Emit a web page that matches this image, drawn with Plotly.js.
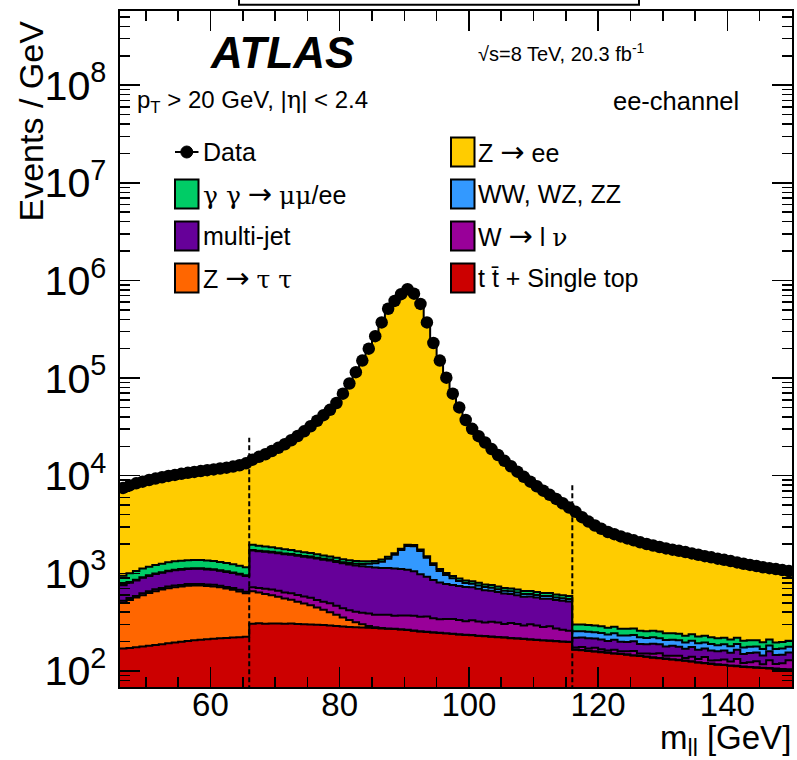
<!DOCTYPE html>
<html><head><meta charset="utf-8">
<script src="https://cdn.plot.ly/plotly-3.0.1.min.js"></script>
<style>html,body{margin:0;padding:0;background:#fff}#chart{width:797px;height:760px}</style>
</head><body><div id="chart"></div>
<script>
// m_ll bin edges [GeV]
const binEdges = [46,47,48,49,50,51,52,53,54,55,56,57,58,59,60,61,62,63,64,65,66,67,68,69,70,71,72,73,74,75,76,77,78,79,80,81,82,83,84,85,86,87,88,89,90,91,92,93,94,95,96,97,98,99,100,101,102,103,104,105,106,107,108,109,110,111,112,113,114,115,116,117,118,119,120,121,122,123,124,125,126,127,128,129,130,131,132,133,134,135,136,137,138,139,140,141,142,143,144,145,146,147,148,149,150];

// Events / GeV
const dataEvents = [7500,7950,8350,8700,9050,9350,9650,9950,10200,10450,10700,10950,11150,11400,11600,11850,12100,12400,12800,13400,
14600,15600,16600,17900,19300,21000,23100,25500,28500,32100,36600,41700,47300,55600,69200,88100,115000,151000,200000,269000,372000,513000,617000,724000,813000,733000,575000,372000,229000,151000,101000,69200,50100,37200,30200,25400,21900,18750,16300,14200,12500,11000,9750,8690,7800,7030,6370,5790,5220,4720,
4270,3760,3390,3090,2860,2650,2520,2390,2280,2180,2080,2000,1930,1860,1800,1750,1700,1650,1600,1550,1500,1460,1415,1375,1335,1295,1255,1220,1190,1155,1130,1105,1080,1055];

const zee = [6560,6950,7290,7580,7880,8130,8390,8650,8870,9100,9330,9580,9780,10050,10260,10540,10830,11160,11600,12250,
12640,13680,14720,16050,17490,19240,21370,23810,26850,30490,35030,40180,45810,54160,67800,86740,113660,149670,198670,267660,370620,511520,615390,722210,811030,731050,573250,370500,227730,149890,99990,68260,49210,36350,29370,24600,21130,17990,15570,13490,11800,10320,9090,8030,7160,6400,5740,5180,4620,4130,
3970,3460,3090,2800,2570,2370,2240,2120,2010,1910,1820,1740,1670,1610,1560,1510,1460,1420,1360,1325,1270,1240,1200,1155,1125,1075,1050,1015,985,960,920,910,880,850];

const gammagamma = [180,190,200,208,215,222,228,233,237,240,242,243,242,240,236,231,225,218,210,200,
230,215,200,188,176,165,155,146,138,130,122,115,108,102,96,90,85,80,76,72,68,65,62,60,58,56,55,54,53,52,51,50,50,49,49,48,48,47,47,46,46,45,45,44,44,43,43,42,42,41,
45,44,44,43,42,42,41,40,40,39,38,38,37,37,36,35,35,34,34,33,33,32,32,31,31,30,30,30,29,29,28,28,28,27];

const diboson = [10,11,11,12,12,13,13,14,14,14,15,15,15,15,15,15,15,15,15,15,
22,23,23,24,24,25,25,26,26,27,27,28,29,30,33,40,50,65,85,120,180,280,430,620,820,850,720,520,360,250,180,130,95,75,62,55,50,46,44,42,40,39,38,37,36,35,34,33,33,32,
36,35,36,34,35,33,34,32,33,31,32,30,31,29,30,28,29,27,28,27,26,27,25,26,25,24,25,24,23,24,23,22,23,22];

const multijet = [230,245,260,275,288,300,310,318,325,330,333,335,334,330,325,318,310,302,295,290,
990,975,965,955,945,935,925,915,905,895,885,870,860,845,830,815,800,790,780,770,760,755,750,740,720,680,620,560,510,470,440,420,410,400,390,375,360,345,330,318,305,295,285,278,272,268,264,260,258,255,
45,44,46,42,43,41,44,40,39,42,38,37,40,36,35,38,34,33,36,32,31,34,30,31,29,32,28,30,29,27,30,28,27,26];

const wlnu = [24,26,22,27,25,29,24,28,30,26,31,27,29,25,30,27,24,28,26,25,
65,72,80,85,88,84,90,86,87,92,85,89,95,88,84,86,90,94,98,95,100,104,98,102,106,108,104,110,98,92,96,100,94,88,98,92,85,95,90,82,92,87,78,90,84,76,82,70,64,60,
8,12,9,14,10,7,13,9,11,15,8,10,12,16,9,11,13,8,14,10,18,9,12,15,11,20,10,13,17,9,22,12,15,25];

const ztautau = [330,360,390,420,448,472,494,512,526,536,542,544,540,532,520,503,482,458,430,400,
350,330,310,290,270,250,230,210,190,170,150,128,108,88,68,50,34,22,12,6,3,2,2,2,2,2,1,1,1,1,1,1,1,1,1,1,1,1,1,1,1,1,1,1,1,1,1,1,1,1,
1,1,1,1,1,1,1,1,1,1,1,1,1,1,1,1,1,1,1,1,1,1,1,1,1,1,1,1,1,1,1,1,1,1];

const ttbar = [170,172,175,178,181,185,188,192,196,199,203,206,209,211,214,216,218,220,222,224,
305,308,305,307,306,304,306,303,301,300,297,295,292,289,286,283,281,279,277,275,273,271,269,266,263,258,254,251,248,245,243,240,237,234,232,229,227,224,222,220,217,215,213,210,208,206,204,202,200,198,
165,163,160,158,156,154,151,149,147,144,142,140,137,135,133,131,129,127,125,122,120,118,116,115,113,112,110,109,108,107,106,105,104,103];

// region boundaries (dashed lines) and their upper ends
const regionBounds = [66, 116];
const regionLineTop = [24500, 8300];

const ARROW = '<span style="font-family:\'DejaVu Sans\';font-size:29px">→</span>';
const G = s => '<span style="font-family:\'DejaVu Serif\'">' + s + '</span>';
const legendLeft = ['Data', G('γ γ') + ' ' + ARROW + ' ' + G('μμ') + '/ee', 'multi-jet', 'Z ' + ARROW + ' ' + G('τ τ')];
const legendRight = ['Z ' + ARROW + ' ee', 'WW, WZ, ZZ', 'W ' + ARROW + ' l ' + G('ν'), 't t̄ + Single top'];
const legendColors = [[null, '#00cc66', '#660099', '#ff6600'], ['#ffcc00', '#3399ff', '#990099', '#cc0000']];

const FONT = '"Liberation Sans", Arial, Helvetica, sans-serif';
const binCenters = binEdges.slice(0, -1).map((e, i) => (e + binEdges[i + 1]) / 2);
const stepY = v => v.concat([v[v.length - 1]]);

const samples = [
  {name: 't t̄ + Single top', y: ttbar, color: '#cc0000'},
  {name: 'Z → τ τ', y: ztautau, color: '#ff6600'},
  {name: 'W → l ν', y: wlnu, color: '#990099'},
  {name: 'multi-jet', y: multijet, color: '#660099'},
  {name: 'WW, WZ, ZZ', y: diboson, color: '#3399ff'},
  {name: 'γ γ → μμ/ee', y: gammagamma, color: '#00cc66'},
  {name: 'Z → ee', y: zee, color: '#ffcc00'}
];

const traces = samples.map(s => ({
  type: 'scatter', mode: 'lines', x: binEdges, y: stepY(s.y), stackgroup: 'mc',
  line: {shape: 'hv', color: 'black', width: 2}, fillcolor: s.color,
  name: s.name, showlegend: false, hoverinfo: 'skip'
}));
regionBounds.forEach((b, i) => traces.push({
  type: 'scatter', mode: 'lines', x: [b, b], y: [1, regionLineTop[i]],
  line: {color: 'black', width: 2, dash: '5px,3px'}, showlegend: false, hoverinfo: 'skip'
}));
traces.push({
  type: 'scatter', mode: 'markers', x: binCenters, y: dataEvents, name: 'Data',
  marker: {color: 'black', size: 12.5}, showlegend: false
});

// layout helpers (pixel -> paper)
const ML = 120, MT = 11, PW = 672, PH = 676;
const px = x => (x - ML) / PW;
const py = y => (MT + PH - y) / PH;

const shapes = [
  {type: 'rect', xref: 'paper', yref: 'paper', x0: px(239), x1: px(639), y0: py(4.7), y1: py(-20),
   line: {color: 'black', width: 2}, fillcolor: 'white', layer: 'above'}
];
const annotations = [
  {text: 'Events / GeV', textangle: -90, x: px(31), y: py(19), xanchor: 'center', yanchor: 'top', font: {size: 34}},
  {text: 'm<sub>ll</sub> [GeV]', x: px(793), y: py(740), xanchor: 'right', yanchor: 'middle', font: {size: 33}},
  {text: 'ATLAS', x: px(282), y: py(52), xanchor: 'center', yanchor: 'middle', font: {size: 44, weight: 'bold', style: 'italic'}},
  {text: '√s=8 TeV, 20.3 fb<sup>-1</sup>', x: px(476), y: py(53), xanchor: 'left', yanchor: 'middle', font: {size: 20}},
  {text: 'p<sub>T</sub> &gt; 20 GeV, |' + G('η') + '| &lt; 2.4', x: px(135), y: py(101), xanchor: 'left', yanchor: 'middle', font: {size: 24}},
  {text: 'ee-channel', x: px(741), y: py(101), xanchor: 'right', yanchor: 'middle', font: {size: 25.5}}
];
const rowY = [152, 194, 236, 278];
const colBox = [[175, 198.5], [451, 474.5]];
const colText = [201, 476];
[legendLeft, legendRight].forEach((col, c) => {
  col.forEach((label, r) => {
    const yc = rowY[r];
    const fill = legendColors[c][r];
    if (fill === null) {
      shapes.push({type: 'line', xref: 'paper', yref: 'paper', x0: px(colBox[c][0]), x1: px(colBox[c][1]), y0: py(yc), y1: py(yc), line: {color: 'black', width: 2}});
      const cx = (colBox[c][0] + colBox[c][1]) / 2;
      shapes.push({type: 'circle', xref: 'paper', yref: 'paper', x0: px(cx - 6), x1: px(cx + 6), y0: py(yc + 6), y1: py(yc - 6), line: {color: 'black', width: 1}, fillcolor: 'black'});
    } else {
      shapes.push({type: 'rect', xref: 'paper', yref: 'paper', x0: px(colBox[c][0]), x1: px(colBox[c][1]), y0: py(yc + 14.5), y1: py(yc - 14.5),
        line: {color: 'black', width: 2}, fillcolor: fill});
    }
    annotations.push({text: label, x: px(colText[c]), y: py(yc), xanchor: 'left', yanchor: 'middle', font: {size: 25}});
  });
});
annotations.forEach(a => { a.xref = 'paper'; a.yref = 'paper'; a.showarrow = false; });

const axisCommon = {
  ticks: 'inside', ticklen: 20, tickwidth: 1.5, tickcolor: 'black',
  showline: true, linecolor: 'black', linewidth: 2, mirror: 'allticks',
  showgrid: false, zeroline: false, tickfont: {size: 33, color: 'black'}
};
const layout = {
  width: 797, height: 760, margin: {l: ML, r: 5, t: MT, b: 73},
  paper_bgcolor: 'white', plot_bgcolor: 'white', showlegend: false,
  font: {family: FONT, color: 'black'},
  xaxis: Object.assign({}, axisCommon, {range: [46, 150], tick0: 0, dtick: 20, ticklabelstandoff: -13,
    minor: {dtick: 5, ticks: 'inside', ticklen: 10, tickwidth: 1.5, tickcolor: 'black', showgrid: false}}),
  yaxis: Object.assign({}, axisCommon, {type: 'log', range: [1.836, 8.76], dtick: 1, exponentformat: 'power', ticklabelstandoff: 5,
    minor: {dtick: 'D1', ticks: 'inside', ticklen: 10, tickwidth: 1.5, tickcolor: 'black', showgrid: false}}),
  shapes: shapes, annotations: annotations
};
Plotly.newPlot('chart', traces, layout, {staticPlot: true});
</script></body></html>
